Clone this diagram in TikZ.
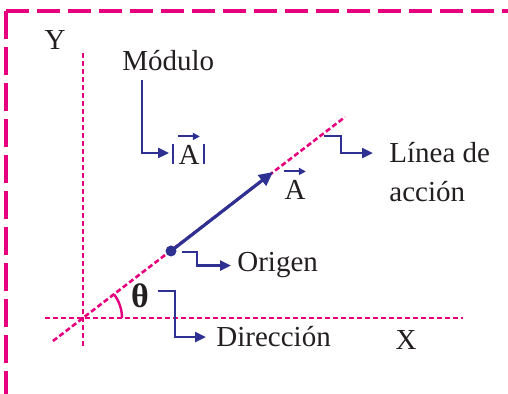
\documentclass[tikz,border=0pt]{standalone}
\usepackage{fontspec}
\setmainfont{Liberation Serif}
\usetikzlibrary{arrows.meta, positioning}

\definecolor{rosa}{HTML}{E6007E}
\definecolor{azul}{HTML}{2E3192}
\definecolor{texto}{HTML}{231F20}

\begin{document}
\begin{tikzpicture}[x=0.5pt, y=-0.5pt,
    every node/.style={inner sep=0pt, text=texto, font=\fontsize{14.5}{18}\selectfont},
    eje/.style={rosa, line width=1.3pt, dash pattern=on 2.6pt off 1.4pt},
    flecha/.style={azul, line width=1.2pt, -{Triangle[length=5.5pt, width=5pt]}},
    flechita/.style={azul, line width=1pt, -{Triangle[length=3.5pt, width=3.5pt]}}]
    \useasboundingbox (0,0) rectangle (508,394);

    % marco
    \draw[rosa, line width=1.6pt, dash pattern=on 11.5pt off 4pt] (6,11) -- (508,11);
    \draw[rosa, line width=1.6pt, dash pattern=on 14pt off 4pt] (6,11) -- (6,394);

    % ejes y linea de accion
    \coordinate (O) at (83,318);
    \coordinate (yb) at (83,346);
    \coordinate (yt) at (83,50);
    \coordinate (xi) at (45,318);
    \coordinate (xf) at (463,318);
    \coordinate (la) at (53,341);
    \coordinate (lb) at (345,117);
    \draw[eje] (yb) -- (yt);
    \draw[eje] (xi) -- (xf);
    \draw[eje] (la) -- (lb);
    \draw[rosa, line width=1.2pt] ([xshift=19.5pt]O) arc (0:37.5:19.5pt);

    \node[anchor=base] (Y) at (55,50) {Y};
    \node[anchor=base] (X) at (406,350) {X};

    % vector
    \node[circle, fill=azul, minimum size=5.5pt] (ini) at (171,251) {};
    \coordinate (fin) at (273,172);
    \draw[azul, line width=1.6pt, -{Triangle[length=7pt, width=6.5pt]}] (ini.center) -- (fin);
    \node[anchor=base] (vA) at (295,200) {A};
    \draw[flechita] ([yshift=4.5pt]vA.north west) -- ([yshift=4.5pt]vA.north east);

    % modulo
    \node[anchor=base west] (mod) at (122,71) {Módulo};
    \node[anchor=base] (mA) at (189,165) {A};
    \draw[flechita] ([yshift=4.5pt]mA.north west) -- ([yshift=4.5pt]mA.north east);
    \draw[azul, line width=1.3pt] (173,144) -- (173,164);
    \draw[azul, line width=1.3pt] (204,144) -- (204,164);
    \coordinate (m0) at (142,80);
    \coordinate (mb) at (169,153);
    \draw[flecha] (m0) |- (mb);

    % linea de accion
    \node[anchor=base west] (lin) at (389,163) {Línea de};
    \node[anchor=base west] (acc) at (389,202) {acción};
    \coordinate (l0) at (324,136);
    \coordinate (l1) at (341,136);
    \draw[flecha] (l0) -- (l1) |- ([xshift=-8pt]lin.west);

    % origen
    \node[anchor=base west] (ori) at (237,272) {Origen};
    \coordinate (o0) at (182,252);
    \coordinate (o1) at (197,252);
    \draw[flecha] (o0) -- (o1) |- ([xshift=-3pt]ori.west);

    % direccion
    \node (th) at (140,296) {\fontsize{17}{18}\selectfont\textbf{θ}};
    \node[anchor=base west] (dir) at (216,347) {Dirección};
    \coordinate (d0) at (158,291);
    \coordinate (d1) at (175,291);
    \draw[flecha] (d0) -- (d1) |- ([xshift=-5pt]dir.west);
\end{tikzpicture}
\end{document}
